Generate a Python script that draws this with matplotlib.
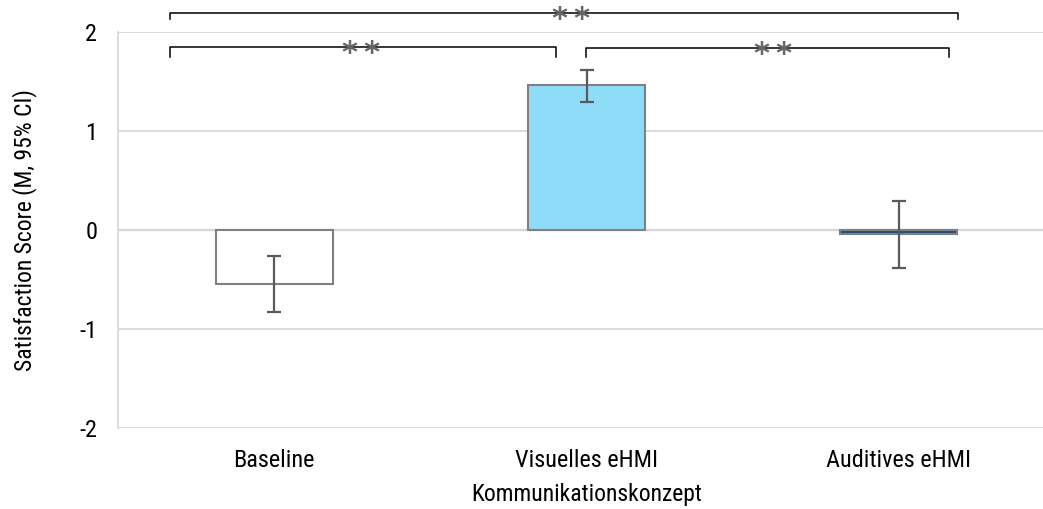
import matplotlib
matplotlib.use("Agg")
import matplotlib.pyplot as plt

plt.rcParams['font.family'] = ['Roboto Condensed', 'Roboto', 'DejaVu Sans']

categories = ['Baseline', 'Visuelles eHMI', 'Auditives eHMI']
means = [-0.55, 1.46, -0.045]
ci_low = [-0.83, 1.29, -0.38]
ci_high = [-0.26, 1.62, 0.29]
bar_colors = ['#ffffff', '#8fdcf9', '#1f4e79']

# significance brackets: (left x, right x, height, tick length)
brackets = [(-0.334, 2.188, 2.19, 0.06),
            (-0.334, 0.902, 1.85, 0.10),
            (0.998, 2.162, 1.84, 0.09)]
stars_x = [0.95, 0.278, 1.596]
stars = ['*\u2009*', '*\u2009*', '*\u2009*']

x = list(range(len(categories)))
err_lo = [m - l for m, l in zip(means, ci_low)]
err_hi = [h - m for m, h in zip(means, ci_high)]

fig = plt.figure(figsize=(10.43, 5.09), dpi=100)
ax = fig.add_axes([118 / 1043, 81 / 509, 937 / 1043, 396 / 509])

ax.bar(x, means, width=0.375, color=bar_colors, edgecolor='#808080',
       linewidth=1.5, zorder=3)
ax.errorbar(x, means, yerr=[err_lo, err_hi], fmt='none', ecolor='#5a5a5a',
            elinewidth=1.6, capsize=5, capthick=1.6, zorder=4)

ax.set_xlim(-0.5, 2.5)
ax.set_ylim(-2, 2)
ax.set_yticks([-2, -1, 0, 1, 2])
ax.set_yticklabels(['-2', '-1', '0', '1', '2'])
ax.set_xticks(x)
ax.set_xticklabels(categories)
ax.tick_params(axis='both', length=0, labelsize=17.5, colors='#000000')
ax.tick_params(axis='x', pad=15)
ax.tick_params(axis='y', pad=15)
ax.grid(axis='y', color='#d9d9d9', linewidth=1.3, zorder=0)
ax.axhline(0, color='#c8c8c8', linewidth=1.6, zorder=1)
for s in ['top', 'right', 'bottom']:
    ax.spines[s].set_visible(False)
ax.spines['left'].set_color('#d9d9d9')
ax.spines['left'].set_linewidth(1.3)

ax.set_ylabel('Satisfaction Score (M, 95% CI)', fontsize=17, labelpad=30)
ax.set_xlabel('Kommunikationskonzept', fontsize=17, labelpad=8)

for (x0, x1, h, t), sx, st in zip(brackets, stars_x, stars):
    ax.plot([x0, x0, x1, x1], [h - t, h, h, h - t], color='#000000',
            linewidth=1.1, clip_on=False, zorder=5)
    ax.annotate(st, xy=(sx, h), xytext=(0, -11), textcoords='offset points',
                ha='center', va='baseline', fontsize=22, fontweight='bold',
                family='DejaVu Sans', color='#666666', zorder=6,
                annotation_clip=False)

fig.savefig('out.png')
